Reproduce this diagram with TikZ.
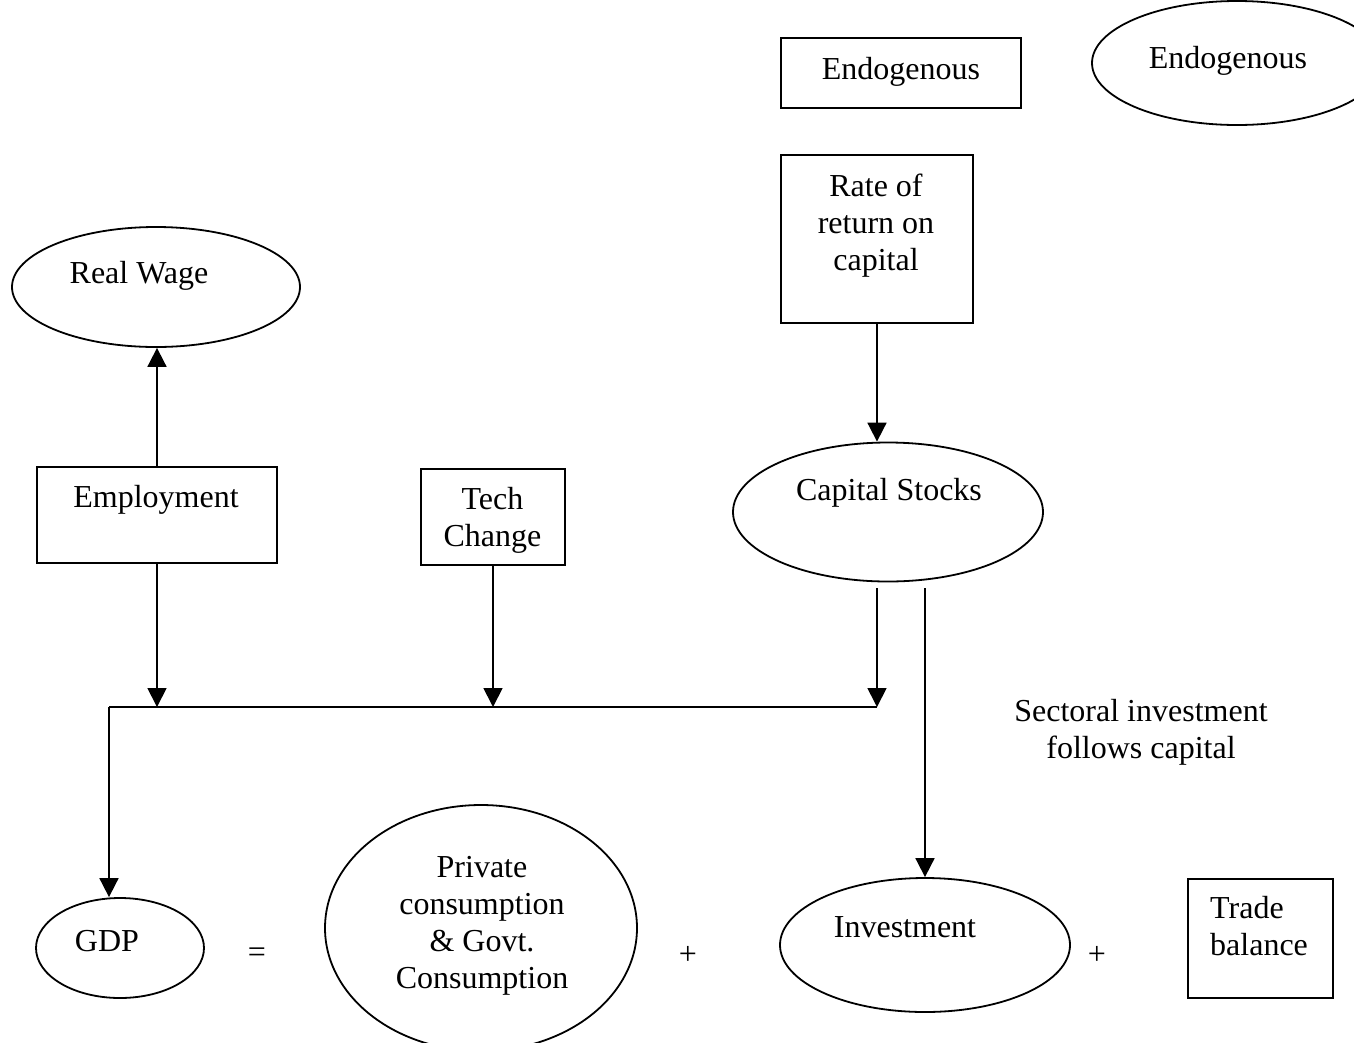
\documentclass[tikz,border=0pt]{standalone}
\usepackage{fontspec}
\setmainfont{Liberation Serif}
\usetikzlibrary{shapes.geometric,arrows.meta}

\tikzset{
  frame/.style={draw, line width=1.8pt, inner sep=0pt},
  ovalnode/.style={frame, ellipse},
  txt/.style={inner sep=0pt, anchor=base, align=center},
  sign/.style={inner sep=0pt, font=\fontsize{32}{37}\selectfont},
  arr/.style={line width=1.8pt, -{Triangle[length=19pt,width=19pt]}},
  ln/.style={line width=1.8pt}
}

\begin{document}
\begin{tikzpicture}[x=1pt, y=-1pt, font=\fontsize{32}{37}\selectfont]
  \useasboundingbox (0,0) rectangle (1354,1042);
  \clip (0,0) rectangle (1354,1042);

  % legend
  \node[frame, rectangle, minimum width=240pt, minimum height=70pt] (legbox) at (901,73) {};
  \node[txt] (legboxt) at (901,79) {Endogenous};
  \node[ovalnode, minimum width=290pt, minimum height=124pt] (legoval) at (1237,63) {};
  \node[txt] (legovalt) at (1228,68) {Endogenous};

  % upper blocks (multi-line text is placed by the baseline of its last line)
  \node[frame, rectangle, minimum width=192pt, minimum height=168pt] (rr) at (877,239) {};
  \node[txt] (rrt) at (876,270) {Rate of\\return on\\capital};

  \node[ovalnode, minimum width=288pt, minimum height=120pt] (rw) at (156,287) {};
  \node[txt] (rwt) at (139,283) {Real Wage};

  \node[frame, rectangle, minimum width=240pt, minimum height=96pt] (emp) at (157,515) {};
  \node[txt] (empt) at (156,507) {Employment};

  \node[frame, rectangle, minimum width=144pt, minimum height=96pt] (tc) at (493,517) {};
  \node[txt] (tct) at (492.5,546) {Tech\\Change};

  \node[ovalnode, minimum width=310pt, minimum height=139pt] (cs) at (888,512) {};
  \node[txt] (cst) at (889,500) {Capital Stocks};

  \node[txt] (note) at (1141,758) {Sectoral investment\\follows capital};

  % national accounts identity
  \node[ovalnode, minimum width=168pt, minimum height=100pt] (gdp) at (120,948) {};
  \node[txt] (gdpt) at (107,951) {GDP};
  \node[sign] (eq) at (257,955) {=};

  \node[ovalnode, minimum width=312pt, minimum height=246pt] (pc) at (481,928) {};
  \node[txt] (pct) at (482,988) {Private\\consumption\\\& Govt.\\Consumption};
  \node[sign] (plus1) at (688,955) {+};

  \node[ovalnode, minimum width=290pt, minimum height=134pt] (inv) at (925,945) {};
  \node[txt] (invt) at (905,937) {Investment};
  \node[sign] (plus2) at (1097,955) {+};

  \node[frame, rectangle, minimum width=145pt, minimum height=119pt] (tb) at (1260.5,938.5) {};
  \node[txt, anchor=base west, align=left] (tbt) at (1210,955) {Trade\\balance};

  % junctions
  \coordinate (jl) at (109,707);
  \coordinate (jr) at (877,707);
  \coordinate (csa) at (877,588);
  \coordinate (csb) at (925,588);

  % connectors
  \draw[arr] (emp.north) -- (emp.north |- rw.south);
  \draw[arr] (rr.south) -- (rr.south |- cs.north);
  \draw[arr] (emp.south) -- (emp.south |- jl);
  \draw[arr] (tc.south) -- (tc.south |- jl);
  \draw[arr] (csa) -- (jr);
  \draw[ln] (jr) -- (jl);
  \draw[arr] (jl) -- (jl |- gdp.north);
  \draw[arr] (csb) -- (csb |- inv.north);
\end{tikzpicture}
\end{document}
